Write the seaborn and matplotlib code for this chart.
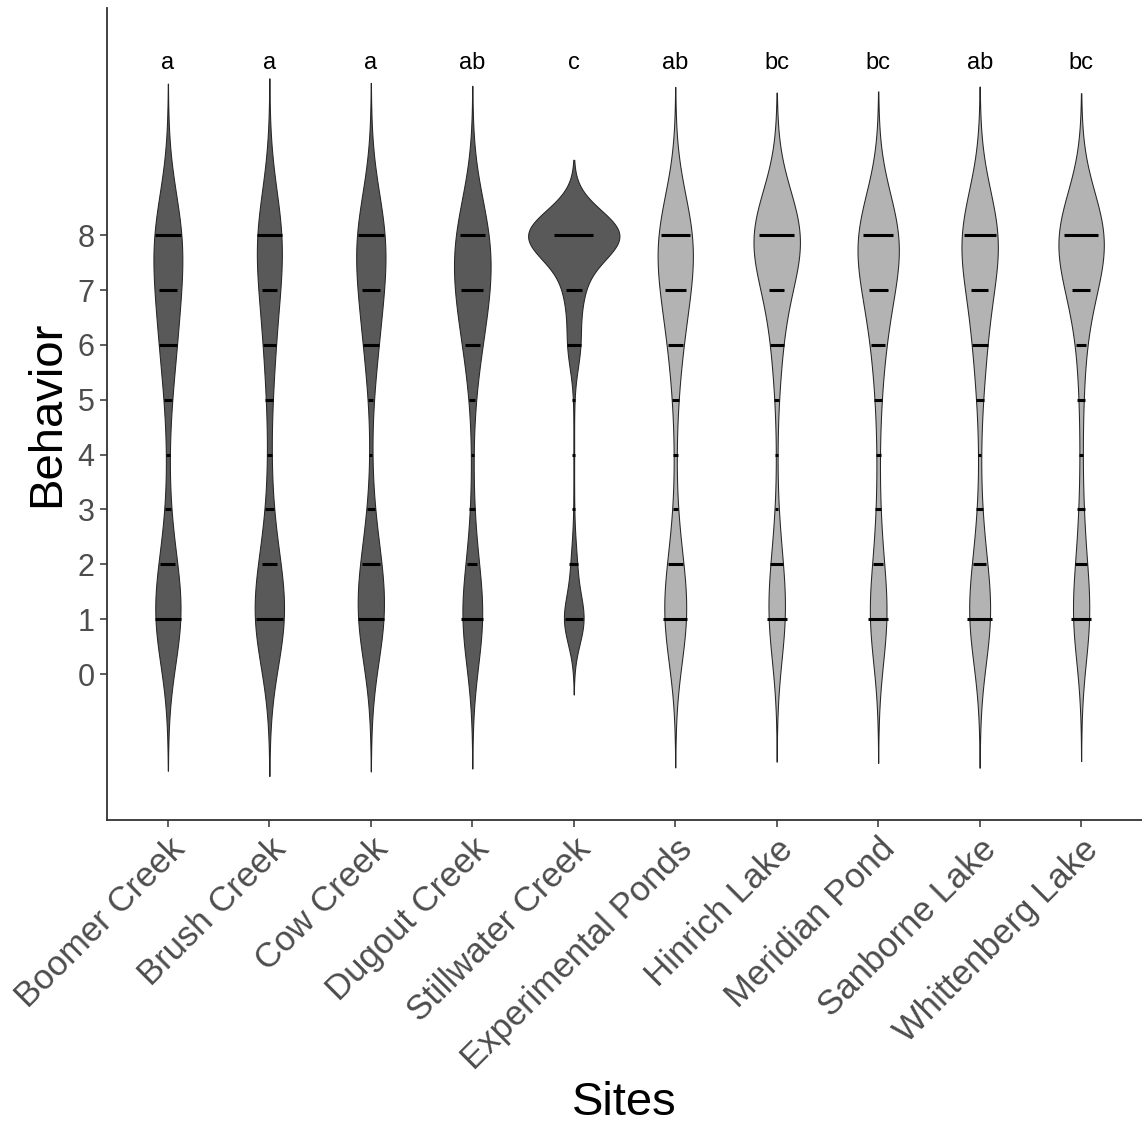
import numpy as np
import pandas as pd
import matplotlib
matplotlib.use("Agg")
import matplotlib.pyplot as plt
import seaborn as sns

# Sampling sites, left to right
sites = ["Boomer Creek", "Brush Creek", "Cow Creek", "Dugout Creek",
         "Stillwater Creek", "Experimental Ponds", "Hinrich Lake",
         "Meridian Pond", "Sanborne Lake", "Whittenberg Lake"]
stream_sites = sites[:5]

# Behavior scores recorded
levels = [1, 2, 3, 4, 5, 6, 7, 8]

# Number of individuals at each behavior score (scores 1..8)
boomer_creek = [61, 20, 3, 2, 6, 28, 29, 60]
brush_creek = [70, 21, 7, 2, 6, 17, 21, 55]
cow_creek = [60, 29, 5, 1, 2, 24, 31, 64]
dugout_creek = [44, 9, 3, 1, 3, 22, 44, 56]
stillwater_creek = [29, 8, 1, 1, 1, 18, 24, 136]
experimental_ponds = [54, 20, 2, 2, 5, 21, 41, 77]
hinrich_lake = [36, 16, 1, 1, 2, 18, 22, 115]
meridian_pond = [36, 10, 4, 2, 6, 17, 34, 82]
sanborne_lake = [54, 17, 4, 1, 6, 24, 26, 94]
whittenberg_lake = [38, 12, 6, 2, 6, 10, 32, 108]

site_counts = [boomer_creek, brush_creek, cow_creek, dugout_creek,
               stillwater_creek, experimental_ponds, hinrich_lake,
               meridian_pond, sanborne_lake, whittenberg_lake]

# Compact letter display from pairwise comparisons
group_letters = ["a", "a", "a", "ab", "c", "ab", "bc", "bc", "ab", "bc"]

# Expand counts into one row per individual
records = []
for site, counts in zip(sites, site_counts):
    for level, n in zip(levels, counts):
        records.extend([(site, level)] * n)
df = pd.DataFrame(records, columns=["Sites", "Behavior"])

stream_fill = "#595959"
pond_fill = "#b3b3b3"


def nrd0(x):
    """Silverman's rule of thumb bandwidth (R's bw.nrd0)."""
    x = np.asarray(x, float)
    sd = x.std(ddof=1)
    q25, q75 = np.percentile(x, [25, 75])
    lo = min(sd, (q75 - q25) / 1.34)
    if lo <= 0:
        lo = sd if sd > 0 else 1.0
    return 0.9 * lo * len(x) ** -0.2


def kde_peak(x, bw, cut=3, n=512):
    x = np.asarray(x, float)
    grid = np.linspace(x.min() - cut * bw, x.max() + cut * bw, n)
    z = (grid[:, None] - x[None, :]) / bw
    dens = np.exp(-0.5 * z ** 2).sum(axis=1) / (len(x) * bw * np.sqrt(2 * np.pi))
    return dens.max()


# Per-site bandwidths; violins are scaled so every site has the same area
site_data = [df.loc[df["Sites"] == s, "Behavior"].to_numpy() for s in sites]
bandwidths = [nrd0(x) for x in site_data]
peaks = [kde_peak(x, bw) for x, bw in zip(site_data, bandwidths)]
max_peak = max(peaks)

sns.set_style("white")
plt.rcParams["font.family"] = ["Liberation Sans", "DejaVu Sans"]

fig = plt.figure(figsize=(11.42, 11.28), dpi=100)
ax = fig.add_axes([107 / 1142, 1 - 820 / 1128, 1 - 107 / 1142, (820 - 8) / 1128])

for site, x, bw, peak in zip(sites, site_data, bandwidths, peaks):
    sub = df[df["Sites"] == site]
    fill = stream_fill if site in stream_sites else pond_fill
    sns.violinplot(data=sub, x="Sites", y="Behavior", order=sites,
                   color=fill, saturation=1, inner=None,
                   bw_method=bw / x.std(ddof=1), cut=3, gridsize=512,
                   density_norm="width", width=0.9 * peak / max_peak,
                   linewidth=0.75, linecolor="#262626", ax=ax)

# Count marks: a bar at each score, length growing with the number of fish
seg_scale = 0.0163
for i, counts in enumerate(site_counts):
    for level, n in zip(levels, counts):
        if n <= 0:
            continue
        half = seg_scale * np.sqrt(n)
        ax.plot([i - half, i + half], [level, level], color="black",
                lw=2.2, solid_capstyle="butt", zorder=5)

for i, letter in enumerate(group_letters):
    ax.text(i, 11.13, letter, ha="center", va="center", fontsize=17,
            color="black")

ax.set_xlim(-0.6, 9.6)
ax.set_ylim(-2.66, 12.14)
ax.set_yticks(range(0, 9))
ax.set_xticks(range(len(sites)))
ax.set_xticklabels(sites)

for side in ("top", "right"):
    ax.spines[side].set_visible(False)
for side in ("left", "bottom"):
    ax.spines[side].set_color("#333333")
    ax.spines[side].set_linewidth(1.3)

ax.tick_params(axis="both", which="both", direction="out", length=5,
               width=1.1, color="#333333", labelcolor="#4d4d4d")
ax.tick_params(axis="y", labelsize=22, pad=4, left=True)
ax.tick_params(axis="x", labelsize=25, pad=4, bottom=True)
for lab in ax.get_xticklabels():
    lab.set_rotation(45)
    lab.set_ha("right")
    lab.set_va("top")
    lab.set_rotation_mode("anchor")

ax.set_xlabel("Sites", fontsize=34, color="black")
ax.xaxis.set_label_coords(0.5, -0.322)
ax.set_ylabel("Behavior", fontsize=34, color="black", labelpad=6)
ax.grid(False)

fig.savefig("out.png", dpi=100)
